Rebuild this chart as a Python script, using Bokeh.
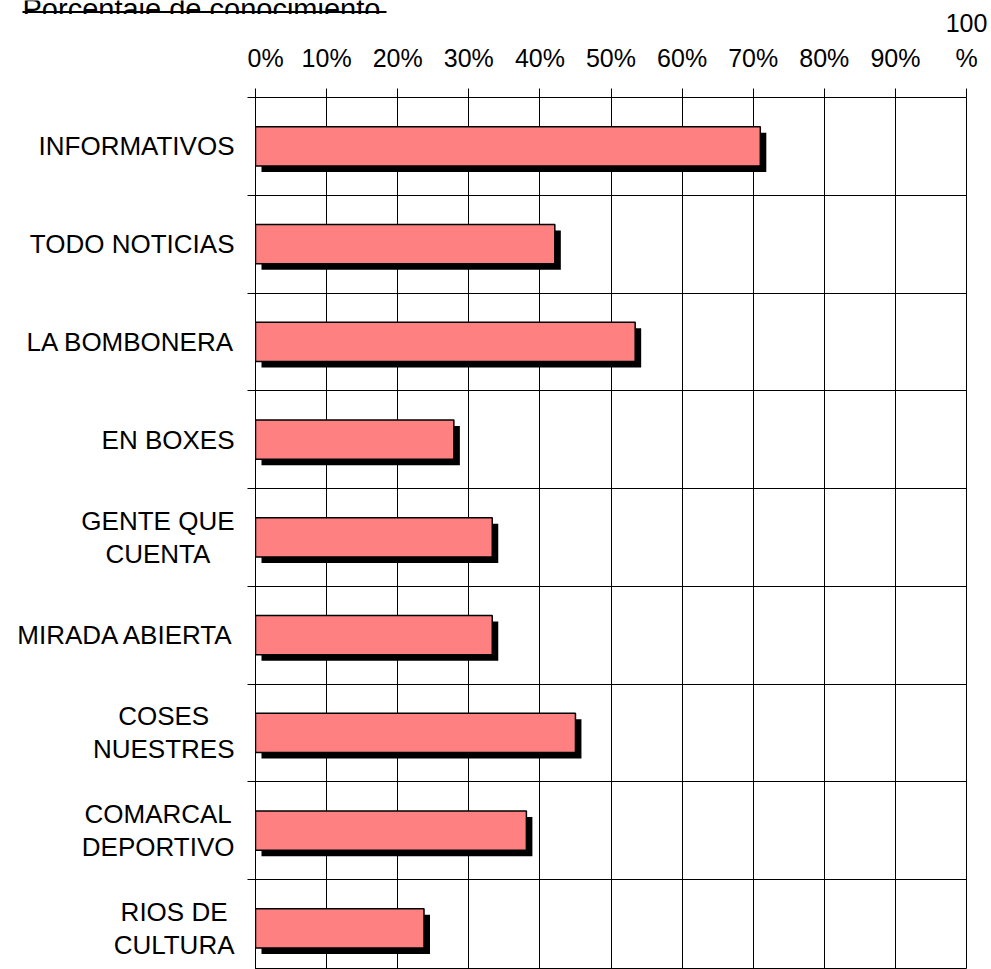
from bokeh.plotting import figure
from bokeh.layouts import column, row
from bokeh.models import (Range1d, FixedTicker, PrintfTickFormatter, LinearAxis,
                          ColumnDataSource)
from bokeh.core.properties import value
from bokeh.transform import dodge
from bokeh.embed import file_html
from bokeh.resources import INLINE

# ---- data ----
categories = ["INFORMATIVOS", "TODO NOTICIAS", "LA BOMBONERA", "EN BOXES",
              "GENTE QUE\nCUENTA", "MIRADA ABIERTA", "COSES\nNUESTRES",
              "COMARCAL\nDEPORTIVO", "RIOS DE\nCULTURA"]
values = [71.0, 42.1, 53.4, 27.9, 33.3, 33.3, 45.0, 38.1, 23.7]
x_ticks = [0, 10, 20, 30, 40, 50, 60, 70, 80, 90, 100]
title_text = "Porcentaje de conocimiento"

FONT = "Liberation Sans"

# ---- layout numbers ----
W, H = 991, 969
title_h = 14          # title strip, overlapped by the (transparent) chart row
label_w = 247
tick_w = 8
right_border = 25
top_border = 97
px_per_cat = 97.75
main_h = H
main_w = W - label_w
px_per_pct = (main_w - tick_w - right_border) / 100.0
n = len(categories)
y_end = (main_h - top_border) / px_per_cat

positions = [i + 0.5 for i in range(n)]
src = ColumnDataSource(dict(y=positions, right=values, left=[0] * n, label=categories))
y_range = Range1d(y_end, 0)


def bare(fig):
    fig.outline_line_color = None
    fig.xgrid.visible = False
    fig.ygrid.visible = False


# ---- title strip (text cut off at the top edge, as in the reference) ----
pt = figure(width=W, height=title_h, output_backend="svg", toolbar_location=None,
            x_range=Range1d(0, W), y_range=Range1d(title_h, 0),
            x_axis_location=None, y_axis_location=None,
            min_border=0, margin=(0, 0, -title_h, 0))
bare(pt)
pt.background_fill_color = "white"
pt.border_fill_color = "white"
pt.text(x=[22], y=[8.3], text=[title_text], text_font=value(FONT),
        text_font_size="29px", text_color="black",
        text_align="left", text_baseline="alphabetic")
pt.segment(x0=[22], y0=[11.5], x1=[386], y1=[11.5], line_color="black", line_width=2)

# ---- category label column ----
pl = figure(width=label_w, height=main_h, output_backend="svg", toolbar_location=None,
            x_range=Range1d(0, label_w), y_range=y_range,
            x_axis_location=None, y_axis_location=None,
            min_border_left=0, min_border_right=0,
            min_border_top=top_border, min_border_bottom=0)
bare(pl)
pl.background_fill_color = "white"
pl.border_fill_alpha = 0
pl.text(x=label_w - 13, y="y", text="label", source=src,
        text_font=value(FONT), text_font_size="26px", text_color="black",
        text_align="center", text_baseline="middle", anchor="center_right",
        text_line_height=1.1)

# ---- main chart ----
p = figure(width=main_w, height=main_h, output_backend="svg", toolbar_location=None,
           x_range=Range1d(0, 100), y_range=y_range,
           x_axis_location="above", y_axis_location=None,
           min_border_left=tick_w, min_border_right=right_border,
           min_border_top=top_border, min_border_bottom=0)
p.background_fill_color = "white"
p.border_fill_alpha = 0
p.outline_line_color = "black"
p.outline_line_width = 1

ax = p.xaxis[0]
ax.ticker = FixedTicker(ticks=x_ticks)
ax.formatter = PrintfTickFormatter(format="%d%%")
ax.major_label_overrides = {100: "100\n%"}
ax.major_tick_out = 9
ax.major_tick_in = 0
ax.minor_tick_line_color = None
ax.axis_line_color = "black"
ax.major_tick_line_color = "black"
ax.major_label_standoff = 17
ax.major_label_text_font = FONT
ax.major_label_text_font_size = "25px"
ax.major_label_text_color = "black"
ax.major_label_text_line_height = 1.25

bounds = list(range(n + 1))
ly = LinearAxis(ticker=FixedTicker(ticks=bounds))
ly.major_label_overrides = {b: "" for b in bounds}
ly.major_label_standoff = 0
ly.major_tick_out = tick_w
ly.major_tick_in = 0
ly.minor_tick_line_color = None
ly.major_tick_line_color = "black"
ly.axis_line_color = "black"
p.add_layout(ly, "left")

p.xgrid.ticker = FixedTicker(ticks=x_ticks)
p.xgrid.grid_line_color = "black"
p.xgrid.grid_line_width = 1
p.ygrid.ticker = FixedTicker(ticks=bounds)
p.ygrid.grid_line_color = "black"
p.ygrid.grid_line_width = 1

# shadow, then bars
p.hbar(y=dodge("y", 6 / px_per_cat), left=dodge("left", 6 / px_per_pct),
       right=dodge("right", 6 / px_per_pct), height=0.4, source=src,
       fill_color="black", line_color=None)
p.hbar(y="y", left="left", right="right", height=0.4, source=src,
       fill_color="#FF8080", line_color="black", line_width=1.5)

layout = column(pt, row(pl, p, spacing=0), spacing=0)
open("out.html", "w").write(file_html(layout, INLINE))
